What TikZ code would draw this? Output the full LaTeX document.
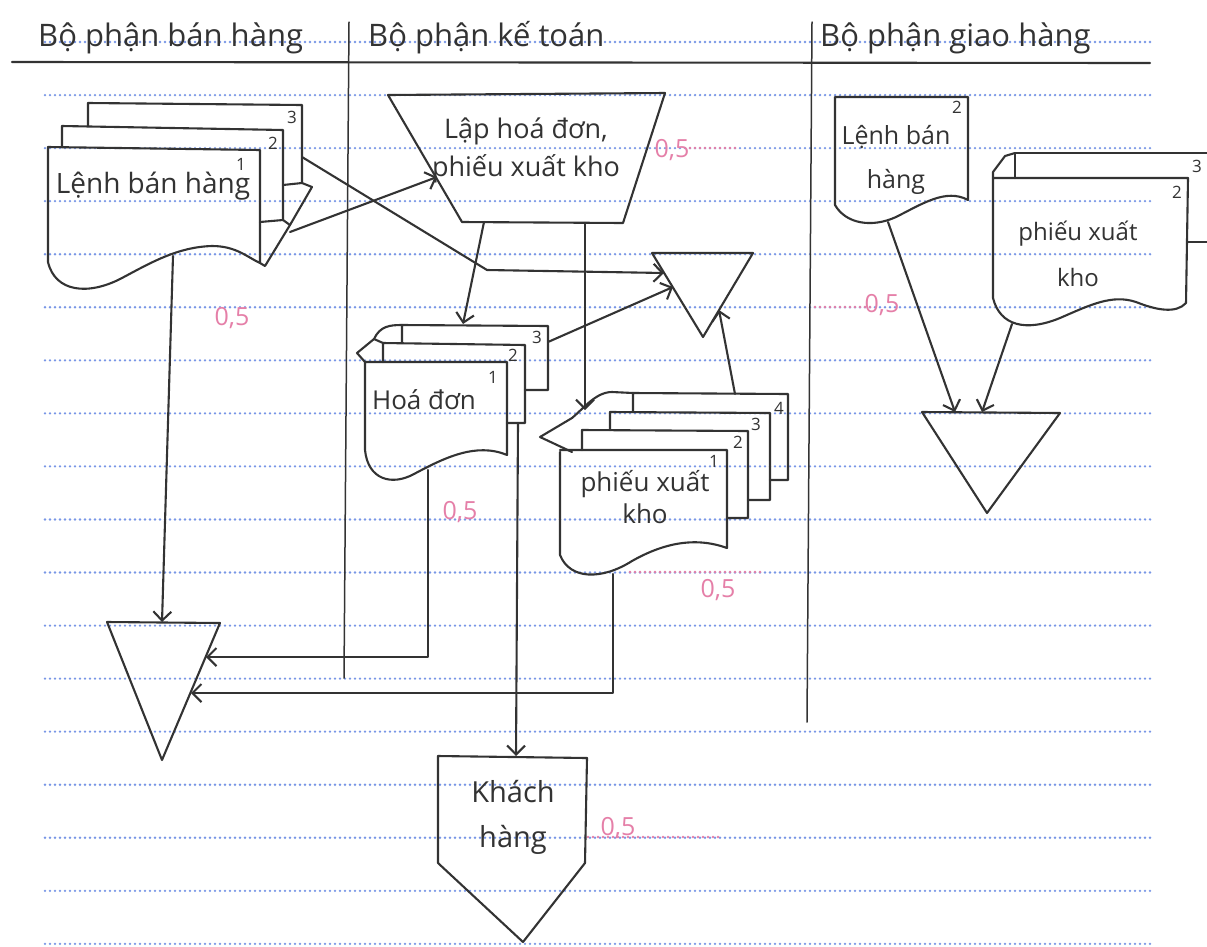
\documentclass[tikz,border=0pt]{standalone}
\usepackage{fontspec}
\setmainfont{Open Sans}
\usetikzlibrary{arrows.meta}
\definecolor{ink}{HTML}{333333}
\definecolor{rule}{HTML}{7896E6}
\definecolor{mark}{HTML}{E57FA8}
\tikzset{
  ruled/.style={draw=rule, line width=2.6pt, line cap=round, dash pattern=on 0pt off 5pt},
  redrule/.style={draw=mark, line width=2.6pt, line cap=round, dash pattern=on 0pt off 5pt},
  pen/.style={draw=ink, line width=2.1pt, line join=round, line cap=round},
  flow/.style={pen, -{Straight Barb[length=9pt,width=18pt]}},
  lbl/.style={font=\fontsize{26}{36}\selectfont, text=ink, inner sep=0pt, align=center},
  num/.style={font=\fontsize{17}{18}\selectfont, text=ink, inner sep=0pt},
  head/.style={font=\fontsize{31}{34}\selectfont, text=ink, inner sep=0pt, anchor=base west},
  score/.style={font=\fontsize{25}{26}\selectfont, text=mark, inner sep=0pt}
}
\begin{document}
\begin{tikzpicture}[x=1pt,y=-1pt]
\useasboundingbox (0,0) rectangle (1207,946);
\fill[white] (0,0) rectangle (1207,946);

% ruled paper
\foreach \k in {0,...,17}
  \draw[ruled] (45,{42+53.05*\k}) -- (1150,{42+53.05*\k});
\draw[redrule] (690,148) -- (735,148);
\draw[redrule] (815,307) -- (870,307);
\draw[redrule] (630,572) -- (760,572);
\draw[redrule] (588,837) -- (720,837);

% swimlane headers and dividers
\node[head] (h1) at (38,46) {Bộ phận bán hàng};
\node[head] (h2) at (368,46) {Bộ phận kế toán};
\node[head] (h3) at (820,46) {Bộ phận giao hàng};
\draw[pen] (12,62) -- (1150,63);
\draw[pen, line width=1.5pt] (349,22) -- (344,678);
\draw[pen, line width=1.5pt] (812,22) -- (807,722);

% ---------- Bộ phận bán hàng: lệnh bán hàng, 3 liên ----------
\draw[pen] (88,126) -- (88,103) -- (302,105) -- (302,183) -- (283,185);
\draw[pen] (62,147) -- (62,126) -- (283,130) -- (283,220) -- (260,222);
\draw[pen] (48,147) -- (48,262)
  .. controls (55,292) and (88,296) .. (122,278)
  .. controls (152,262) and (178,247) .. (212,246)
  .. controls (236,246) and (247,257) .. (260,263) -- (260,150) -- cycle;
\draw[pen] (302,183) -- (312,187) -- (290,225) -- (265,266) -- (260,263);
\draw[pen] (283,220) -- (290,225);
\node[lbl, font=\fontsize{28}{36}\selectfont] (lbh) at (153,186) {Lệnh bán hàng};
\node[num] (lbh1) at (241,164) {1};
\node[num] (lbh2) at (273,143) {2};
\node[num] (lbh3n) at (292,117) {3};

% ---------- Bộ phận kế toán ----------
\draw[pen] (388,95) -- (665,93) -- (623,223) -- (462,222) -- cycle;
\node[lbl, font=\fontsize{27}{38}\selectfont] (lap) at (526,150) {Lập hoá đơn,\\phiếu xuất kho};

% triangle (lưu trữ)
\draw[pen] (652,253) -- (753,253) -- (703,337) -- cycle;

% hoá đơn, 3 liên
\draw[pen] (402,343) -- (402,325) -- (548,326) -- (548,390) -- (525,390);
\draw[pen] (383,362) -- (383,343) -- (525,345) -- (525,423) -- (507,423);
\draw[pen] (365,362) -- (357,353) -- (374,339) .. controls (380,326) and (390,325) .. (402,325);
\draw[pen] (374,339) -- (383,343);
\draw[pen] (365,362) -- (365,450)
  .. controls (368,480) and (392,486) .. (414,474)
  .. controls (444,458) and (476,442) .. (507,455) -- (507,362) -- cycle;
\node[lbl] (hd) at (424,400) {Hoá đơn};
\node[num] (hd1) at (493,377) {1};
\node[num] (hd2) at (513,355) {2};
\node[num] (hd3) at (537,337) {3};

% phiếu xuất kho, 4 liên
\draw[pen] (633,412) -- (633,393) -- (788,394) -- (788,480) -- (770,480);
\draw[pen] (610,430) -- (610,412) -- (770,413) -- (770,500) -- (748,500);
\draw[pen] (582,450) -- (582,430) -- (748,431) -- (748,518) -- (727,518);
\draw[pen] (572,418) -- (540,437) -- (572,452);
\draw[pen] (572,418) .. controls (584,408) and (596,392) .. (612,392) -- (633,393);
\draw[pen] (560,452) -- (560,555)
  .. controls (570,580) and (602,580) .. (632,561)
  .. controls (662,544) and (694,536) .. (727,548) -- (727,450) -- (560,450);
\node[lbl, font=\fontsize{26}{32}\selectfont] (pxk) at (645,497) {phiếu xuất\\kho};
\node[num] (pxk1) at (714,461) {1};
\node[num] (pxk2) at (738,442) {2};
\node[num] (pxk3) at (756,424) {3};
\node[num] (pxk4) at (779,408) {4};

% bottom triangle, bán hàng
\draw[pen] (107,622) -- (220,623) -- (162,760) -- cycle;

% khách hàng
\draw[pen] (438,756) -- (587,758) -- (585,863) -- (523,942) -- (438,863) -- cycle;
\node[lbl, font=\fontsize{29}{45}\selectfont] (kh) at (513,817) {Khách\\hàng};

% ---------- Bộ phận giao hàng ----------
\draw[pen] (835,97) -- (835,205)
  .. controls (846,224) and (872,228) .. (896,217)
  .. controls (922,204) and (946,188) .. (968,200) -- (968,97) -- cycle;
\node[lbl, font=\fontsize{25}{44}\selectfont] (lbhg) at (896,160) {Lệnh bán\\hàng};
\node[num] (lbhg2) at (957,107) {2};

\draw[pen] (1015,178) -- (1015,153) -- (1212,153);
\draw[pen] (1188,242) -- (1212,242);
\draw[pen] (993,178) -- (993,172) -- (1005,156) -- (1015,153);
\draw[pen] (993,178) -- (993,298)
  .. controls (1000,326) and (1026,332) .. (1060,318)
  .. controls (1090,305) and (1112,294) .. (1136,302)
  .. controls (1156,310) and (1176,314) .. (1186,303) -- (1188,178) -- cycle;
\node[lbl, font=\fontsize{24}{46}\selectfont] (pxkg) at (1078,254) {phiếu xuất\\kho};
\node[num] (pxkg2) at (1177,192) {2};
\node[num] (pxkg3) at (1197,166) {3};

\draw[pen] (922,412) -- (1060,413) -- (987,513) -- cycle;

% grading marks
\node[score] (s1) at (232,318) {0,5};
\node[score] (s2) at (672,150) {0,5};
\node[score] (s3) at (460,512) {0,5};
\node[score] (s4) at (718,590) {0,5};
\node[score] (s5) at (882,305) {0,5};
\node[score] (s6) at (618,828) {0,5};

% ---------- connection points ----------
\coordinate (lbhTop) at (302,157);
\coordinate (lbhFlap) at (290,232);
\coordinate (lbhBot) at (173,256);
\coordinate (lapL) at (437,177);
\coordinate (lapB1) at (484,222);
\coordinate (lapB2) at (585,223);
\coordinate (triML) at (664,273);
\coordinate (triML2) at (673,287);
\coordinate (triMR) at (719,310);
\coordinate (hdTop) at (463,324);
\coordinate (hd3R) at (548,342);
\coordinate (hdBot) at (428,470);
\coordinate (hd2B) at (518,423);
\coordinate (pxkTop) at (585,410);
\coordinate (pxk4T) at (735,394);
\coordinate (pxkBot) at (613,574);
\coordinate (triBT) at (162,622);
\coordinate (triBR1) at (206,657);
\coordinate (triBR2) at (191,693);
\coordinate (khTop) at (516,756);
\coordinate (lbhgBot) at (888,222);
\coordinate (pxkgBot) at (1012,324);
\coordinate (triGL) at (955,412);
\coordinate (triGR) at (982,412);

% ---------- flows ----------
\draw[flow] (lbhTop) -- (487,270) -- (triML);
\draw[flow] (lbhFlap) -- (lapL);
\draw[flow] (lbhBot) -- (triBT);
\draw[flow] (lapB1) -- (hdTop);
\draw[flow] (lapB2) -- (pxkTop);
\draw[flow] (hd3R) -- (triML2);
\draw[flow] (pxk4T) -- (triMR);
\draw[flow] (hdBot) |- (triBR1);
\draw[flow] (hd2B) -- (khTop);
\draw[flow] (pxkBot) |- (triBR2);
\draw[flow] (lbhgBot) -- (triGL);
\draw[flow] (pxkgBot) -- (triGR);
\end{tikzpicture}
\end{document}
